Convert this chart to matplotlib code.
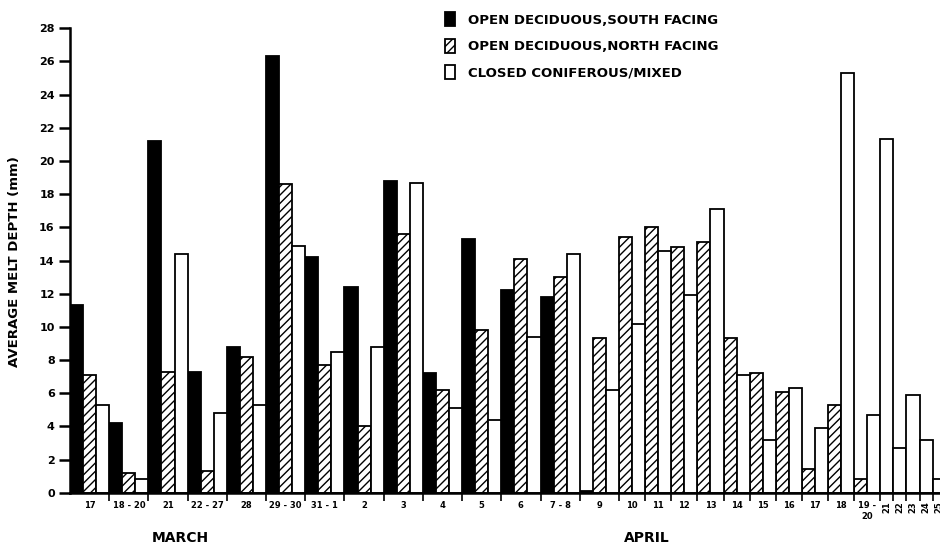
import numpy as np
import matplotlib
matplotlib.use("Agg")
import matplotlib.pyplot as plt

# Observation periods (March then April)
periods = ["17", "18 - 20", "21", "22 - 27", "28", "29 - 30", "31 - 1",
           "2", "3", "4", "5", "6", "7 - 8", "9", "10", "11", "12", "13",
           "14", "15", "16", "17", "18", "19 -\n20", "21", "22", "23", "24", "25"]

# Average melt depth (mm) per site type; nan = no measurement
south_facing = [11.3, 4.2, 21.2, 7.3, 8.8, 26.3, 14.2, 12.4, 18.8, 7.2, 15.3,
                12.2, 11.8, 0.1] + [np.nan] * 15
north_facing = [7.1, 1.2, 7.3, 1.3, 8.2, 18.6, 7.7, 4.0, 15.6, 6.2, 9.8, 14.1,
                13.0, 9.3, 15.4, 16.0, 14.8, 15.1, 9.3, 7.2, 6.1, 1.4, 5.3,
                0.8] + [np.nan] * 5
closed_mixed = [5.3, 0.8, 14.4, 4.8, 5.3, 14.9, 8.5, 8.8, 18.7, 5.1, 4.4, 9.4,
                14.4, 6.2, 10.2, 14.6, 11.9, 17.1, 7.1, 3.2, 6.3, 3.9, 25.3,
                4.7, 21.3, 2.7, 5.9, 3.2, 0.8]

series_names = ["OPEN DECIDUOUS,SOUTH FACING", "OPEN DECIDUOUS,NORTH FACING",
                "CLOSED CONIFEROUS/MIXED"]
yticks = list(range(0, 29, 2))
month_labels = ["MARCH", "APRIL"]

FONT = "DejaVu Sans"
plt.rcParams["font.family"] = [FONT]
plt.rcParams["hatch.linewidth"] = 1.0

W, H = 940, 546
fig = plt.figure(figsize=(W / 100, H / 100), dpi=100)
ax = fig.add_axes([70 / W, 53.3 / H, 870 / W, (492.7 - 28.3) / H])

styles = [dict(facecolor="black", edgecolor="black", hatch=None),
          dict(facecolor="white", edgecolor="black", hatch="////"),
          dict(facecolor="white", edgecolor="black", hatch=None)]
all_series = [south_facing, north_facing, closed_mixed]

# Place bars consecutively; a period only takes as many slots as it has values
xs = [[], [], []]
hs = [[], [], []]
centers, bounds = [], []
slot = 0
for g in range(len(periods)):
    start = slot
    for s, vals in enumerate(all_series):
        v = vals[g]
        if not np.isnan(v):
            xs[s].append(slot)
            hs[s].append(v)
            slot += 1
    centers.append((start + slot) / 2)
    bounds.append(slot)

handles = []
for s in range(3):
    st = styles[s]
    b = ax.bar(xs[s], hs[s], width=1.0, align="edge", facecolor=st["facecolor"],
               edgecolor=st["edgecolor"], hatch=st["hatch"], linewidth=1.3,
               label=series_names[s], zorder=2)
    handles.append(b)

ax.set_xlim(0, 870 / 13.07)
ax.set_ylim(0, 28)
for side in ("top", "right"):
    ax.spines[side].set_visible(False)
ax.spines["left"].set_linewidth(1.8)
ax.spines["bottom"].set_linewidth(1.8)

ax.set_yticks(yticks)
ax.set_yticklabels([str(t) for t in yticks], fontsize=8, fontweight="bold")
ax.tick_params(axis="y", direction="out", length=8, width=1.8, pad=3)

ax.set_xticks(centers)
ax.set_xticklabels(periods, fontsize=6, fontweight="bold", linespacing=1.3)
ax.tick_params(axis="x", which="major", length=0, pad=6)
ax.set_xticks(bounds[:-1], minor=True)
ax.tick_params(axis="x", which="minor", direction="out", length=6, width=1.2)
for lab in ax.get_xticklabels()[-5:]:
    lab.set_rotation(90)
    lab.set_va("top")

fig.text(15 / W, 1 - 262 / H, "AVERAGE MELT DEPTH (mm)", rotation=90,
         ha="center", va="center", fontsize=9.5, fontweight="bold")
fig.text(180 / W, 1 - 538 / H, month_labels[0], ha="center", va="center",
         fontsize=10, fontweight="bold")
fig.text(647 / W, 1 - 538 / H, month_labels[1], ha="center", va="center",
         fontsize=10, fontweight="bold")

fig.legend(handles=handles, loc="upper left", bbox_to_anchor=(440 / W, 1 - 7 / H),
           frameon=False, handlelength=0.7, handleheight=1.25,
           handletextpad=1.0, labelspacing=0.9, borderaxespad=0,
           prop=dict(weight="bold", size=9.5))

fig.savefig("out.png", dpi=100)
